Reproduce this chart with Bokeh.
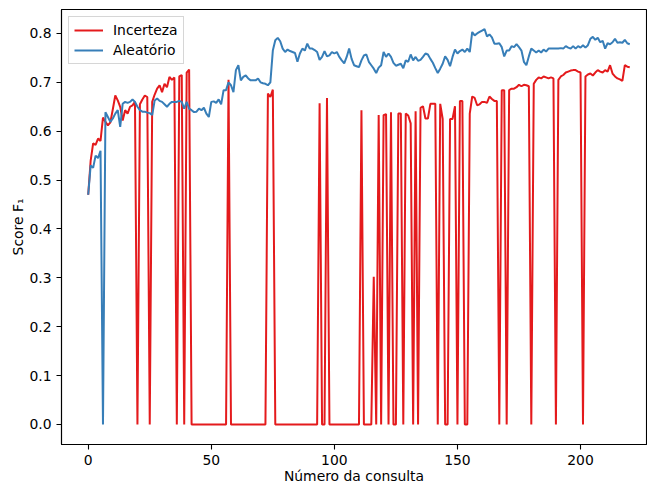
from bokeh.plotting import figure
from bokeh.models import Range1d, FixedTicker, PrintfTickFormatter
from bokeh.embed import file_html
from bokeh.resources import INLINE

# ---- data ----
incerteza = [
    0.470, 0.540, 0.575, 0.572, 0.585, 0.580, 0.628, 0.619, 0.612, 0.618,
    0.645, 0.673, 0.663, 0.650, 0.622, 0.643, 0.636, 0.650, 0.653, 0.660,
    0.000, 0.655, 0.665, 0.673, 0.670, 0.000, 0.660, 0.675, 0.687, 0.694,
    0.680, 0.697, 0.690, 0.711, 0.705, 0.710, 0.000, 0.712, 0.715, 0.000,
    0.720, 0.726, 0.000, 0.000, 0.000, 0.000, 0.000, 0.000, 0.000, 0.000,
    0.000, 0.000, 0.000, 0.000, 0.000, 0.000, 0.000, 0.705, 0.000, 0.000,
    0.000, 0.000, 0.000, 0.000, 0.000, 0.000, 0.000, 0.000, 0.000, 0.000,
    0.000, 0.000, 0.000, 0.677, 0.670, 0.685, 0.000, 0.000, 0.000, 0.000,
    0.000, 0.000, 0.000, 0.000, 0.000, 0.000, 0.000, 0.000, 0.000, 0.000,
    0.000, 0.000, 0.000, 0.000, 0.657, 0.000, 0.000, 0.668, 0.000, 0.000,
    0.000, 0.000, 0.000, 0.000, 0.000, 0.000, 0.000, 0.000, 0.000, 0.000,
    0.000, 0.643, 0.000, 0.000, 0.000, 0.000, 0.302, 0.000, 0.633, 0.000,
    0.633, 0.635, 0.000, 0.639, 0.000, 0.000, 0.636, 0.636, 0.000, 0.636,
    0.632, 0.616, 0.000, 0.641, 0.000, 0.648, 0.651, 0.626, 0.626, 0.656,
    0.656, 0.656, 0.000, 0.656, 0.625, 0.000, 0.000, 0.625, 0.625, 0.651,
    0.000, 0.662, 0.662, 0.000, 0.000, 0.636, 0.671, 0.668, 0.653, 0.655,
    0.660, 0.660, 0.658, 0.671, 0.666, 0.662, 0.662, 0.000, 0.684, 0.684,
    0.000, 0.684, 0.687, 0.687, 0.690, 0.695, 0.692, 0.695, 0.694, 0.692,
    0.000, 0.697, 0.705, 0.710, 0.708, 0.712, 0.710, 0.708, 0.710, 0.708,
    0.000, 0.705, 0.712, 0.715, 0.720, 0.722, 0.724, 0.725, 0.725, 0.722,
    0.720, 0.000, 0.712, 0.716, 0.718, 0.714, 0.720, 0.725, 0.722, 0.720,
    0.725, 0.722, 0.735, 0.718, 0.712, 0.708, 0.706, 0.703, 0.735, 0.732,
    0.731,
]

aleatorio = [
    0.470, 0.530, 0.525, 0.550, 0.545, 0.560, 0.000, 0.639, 0.629, 0.619,
    0.626, 0.636, 0.643, 0.609, 0.656, 0.660, 0.658, 0.660, 0.665, 0.660,
    0.650, 0.643, 0.640, 0.640, 0.638, 0.637, 0.633, 0.663, 0.667, 0.662,
    0.660, 0.655, 0.650, 0.656, 0.660, 0.660, 0.660, 0.662, 0.660, 0.646,
    0.660, 0.646, 0.643, 0.639, 0.640, 0.646, 0.643, 0.648, 0.636, 0.629,
    0.660, 0.661, 0.658, 0.665, 0.655, 0.684, 0.684, 0.700, 0.694, 0.680,
    0.725, 0.735, 0.704, 0.711, 0.714, 0.708, 0.704, 0.704, 0.704, 0.708,
    0.700, 0.698, 0.697, 0.694, 0.700, 0.765, 0.786, 0.791, 0.784, 0.769,
    0.762, 0.767, 0.764, 0.762, 0.760, 0.742, 0.759, 0.769, 0.765, 0.779,
    0.769, 0.769, 0.766, 0.762, 0.746, 0.752, 0.764, 0.753, 0.755, 0.762,
    0.759, 0.762, 0.752, 0.745, 0.739, 0.752, 0.769, 0.748, 0.735, 0.733,
    0.731, 0.745, 0.755, 0.757, 0.742, 0.735, 0.728, 0.719, 0.730, 0.735,
    0.762, 0.752, 0.759, 0.752, 0.740, 0.734, 0.736, 0.738, 0.729, 0.745,
    0.742, 0.757, 0.745, 0.752, 0.744, 0.746, 0.752, 0.759, 0.757, 0.748,
    0.740, 0.729, 0.719, 0.728, 0.738, 0.753, 0.746, 0.733, 0.752, 0.767,
    0.759, 0.764, 0.767, 0.762, 0.769, 0.762, 0.803, 0.796, 0.800, 0.803,
    0.806, 0.809, 0.794, 0.798, 0.792, 0.779, 0.779, 0.780, 0.772, 0.753,
    0.765, 0.765, 0.774, 0.772, 0.778, 0.772, 0.765, 0.742, 0.735, 0.753,
    0.769, 0.765, 0.761, 0.765, 0.761, 0.767, 0.763, 0.769, 0.769, 0.769,
    0.769, 0.769, 0.770, 0.769, 0.774, 0.771, 0.769, 0.774, 0.769, 0.774,
    0.771, 0.776, 0.771, 0.776, 0.789, 0.793, 0.787, 0.791, 0.782, 0.785,
    0.769, 0.780, 0.778, 0.782, 0.789, 0.781, 0.782, 0.781, 0.787, 0.780,
    0.778,
]

series_names = ["Incerteza", "Aleatório"]
series_colors = ["#e41a1c", "#377eb8"]
x_ticks = [0, 50, 100, 150, 200]
y_ticks = [0.0, 0.1, 0.2, 0.3, 0.4, 0.5, 0.6, 0.7, 0.8]
x_label = "Número da consulta"
y_label = "Score F\u2081"

FONT = "DejaVu Sans"
FS = "13.9px"

p = figure(width=647, height=486,
           x_range=Range1d(-10.85, 226.8), y_range=Range1d(-0.041, 0.849),
           output_backend="svg", toolbar_location=None,
           min_border_left=61, min_border_right=1, min_border_top=9, min_border_bottom=42)
p.background_fill_color = "white"
p.border_fill_color = "white"
p.outline_line_color = "black"
p.outline_line_width = 1.1
p.grid.visible = False

for vals, name, col in [(incerteza, series_names[0], series_colors[0]),
                        (aleatorio, series_names[1], series_colors[1])]:
    p.line(list(range(len(vals))), vals, line_color=col, line_width=2,
           legend_label=name)

for ax in (p.xaxis[0], p.yaxis[0]):
    ax.major_tick_out = 5
    ax.major_tick_in = 0
    ax.minor_tick_out = 0
    ax.minor_tick_in = 0
    ax.major_label_standoff = 5
    ax.major_label_text_font = FONT
    ax.major_label_text_font_size = FS
    ax.major_label_text_color = "black"
    ax.axis_line_color = "black"
    ax.axis_line_width = 1.1
    ax.major_tick_line_width = 1.1
    ax.major_tick_line_color = "black"
    ax.axis_label_text_font = FONT
    ax.axis_label_text_font_size = FS
    ax.axis_label_text_font_style = "normal"
    ax.axis_label_text_color = "black"

p.xaxis.ticker = FixedTicker(ticks=x_ticks)
p.yaxis.ticker = FixedTicker(ticks=y_ticks)
p.yaxis.formatter = PrintfTickFormatter(format="%.1f")
p.xaxis.axis_label = x_label
p.yaxis.axis_label = y_label
p.xaxis.axis_label_standoff = 0
p.yaxis.axis_label_standoff = 0

lg = p.legend[0]
lg.location = "top_left"
lg.margin = 7
lg.padding = 5
lg.spacing = 4
lg.glyph_width = 29
lg.glyph_height = 16
lg.label_height = 16
lg.label_standoff = 10
lg.label_text_font = FONT
lg.label_text_font_size = FS
lg.label_text_color = "black"
lg.border_line_color = "#cccccc"
lg.border_line_alpha = 0.8
lg.background_fill_alpha = 0.8

open("out.html", "w").write(file_html(p, INLINE))
